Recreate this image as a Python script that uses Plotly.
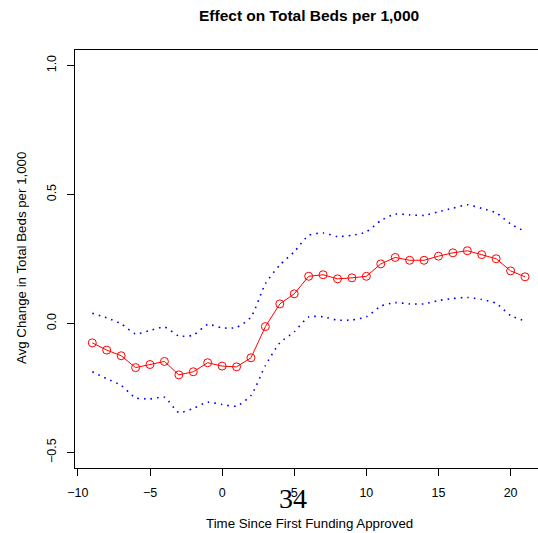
import plotly.graph_objects as go

time = list(range(-9, 22))
effect = [-0.075, -0.103, -0.125, -0.171, -0.159, -0.147, -0.199, -0.187, -0.152, -0.165,
          -0.168, -0.133, -0.012, 0.076, 0.115, 0.183, 0.189, 0.173, 0.177, 0.183,
          0.231, 0.256, 0.245, 0.245, 0.261, 0.274, 0.282, 0.267, 0.251, 0.204, 0.181]
upper = [0.040, 0.022, -0.001, -0.040, -0.027, -0.014, -0.048, -0.045, -0.004, -0.017,
         -0.015, 0.025, 0.154, 0.227, 0.278, 0.341, 0.351, 0.337, 0.342, 0.355,
         0.399, 0.424, 0.421, 0.419, 0.433, 0.447, 0.460, 0.446, 0.429, 0.386, 0.357]
lower = [-0.187, -0.214, -0.240, -0.288, -0.292, -0.286, -0.345, -0.329, -0.305, -0.314,
         -0.320, -0.279, -0.163, -0.075, -0.032, 0.025, 0.026, 0.013, 0.014, 0.026,
         0.067, 0.081, 0.076, 0.076, 0.089, 0.097, 0.101, 0.093, 0.078, 0.031, 0.010]
x_ticks = [-10, -5, 0, 5, 10, 15, 20]
y_ticks = [-0.5, 0.0, 0.5, 1.0]
y_tick_labels = ["\u22120.5", "0.0", "0.5", "1.0"]
x_tick_labels = ["\u221210", "\u22125", "0", "5", "10", "15", "20"]

W, H = 538, 533
L, R, T, B = 75, 0, 50, 65
pw, ph = W - L - R, H - T - B

def px(xp):
    return (xp - L) / pw

def py(yp):
    return (H - B - yp) / ph

font = "Liberation Sans, Arial, sans-serif"
fig = go.Figure()
for band in (upper, lower):
    fig.add_trace(go.Scatter(x=time, y=band, mode="lines",
                             line=dict(color="#0000ff", width=1.6, dash="1.6px,5px", shape="spline", smoothing=0.6),
                             hoverinfo="skip", showlegend=False))
fig.add_trace(go.Scatter(x=time, y=effect, mode="lines+markers",
                         line=dict(color="#ff0000", width=1),
                         marker=dict(symbol="circle-open", size=8, color="#ff0000", line=dict(width=1)),
                         showlegend=False))

fig.update_layout(
    width=W, height=H, margin=dict(l=L, r=R, t=T, b=B),
    paper_bgcolor="white", plot_bgcolor="white",
    font=dict(family=font, size=12, color="black"),
    xaxis=dict(range=[-10.2, 21.9], tickvals=x_ticks, ticktext=x_tick_labels,
               showgrid=False, zeroline=False, showline=True, linecolor="black", linewidth=1,
               mirror=True, ticks="outside", ticklen=7, tickcolor="black", tickwidth=1,
               tickfont=dict(size=12.5), ticklabelstandoff=6),
    yaxis=dict(range=[-0.56, 1.06], tickvals=y_ticks, ticktext=y_tick_labels,
               showgrid=False, zeroline=False, showline=True, linecolor="black", linewidth=1,
               ticks="outside", ticklen=7, tickcolor="black", tickwidth=1,
               tickangle=-90, tickfont=dict(size=12.5), ticklabelstandoff=6),
    annotations=[
        dict(text="<b>Effect on Total Beds per 1,000</b>", x=px(309), y=py(16), xref="paper", yref="paper",
             showarrow=False, xanchor="center", yanchor="middle", font=dict(size=15.5, family=font)),
        dict(text="Time Since First Funding Approved", x=px(309), y=py(523), xref="paper", yref="paper",
             showarrow=False, xanchor="center", yanchor="middle", font=dict(size=13.3, family=font)),
        dict(text="Avg Change in Total Beds per 1,000", x=px(21), y=py(258), xref="paper", yref="paper",
             showarrow=False, xanchor="center", yanchor="middle", textangle=-90, font=dict(size=13.3, family=font)),
        dict(text="34", x=px(293), y=py(498), xref="paper", yref="paper",
             showarrow=False, xanchor="center", yanchor="middle",
             font=dict(size=28, family="Liberation Serif, DejaVu Serif, serif")),
    ],
)
fig.write_html("out.html")
